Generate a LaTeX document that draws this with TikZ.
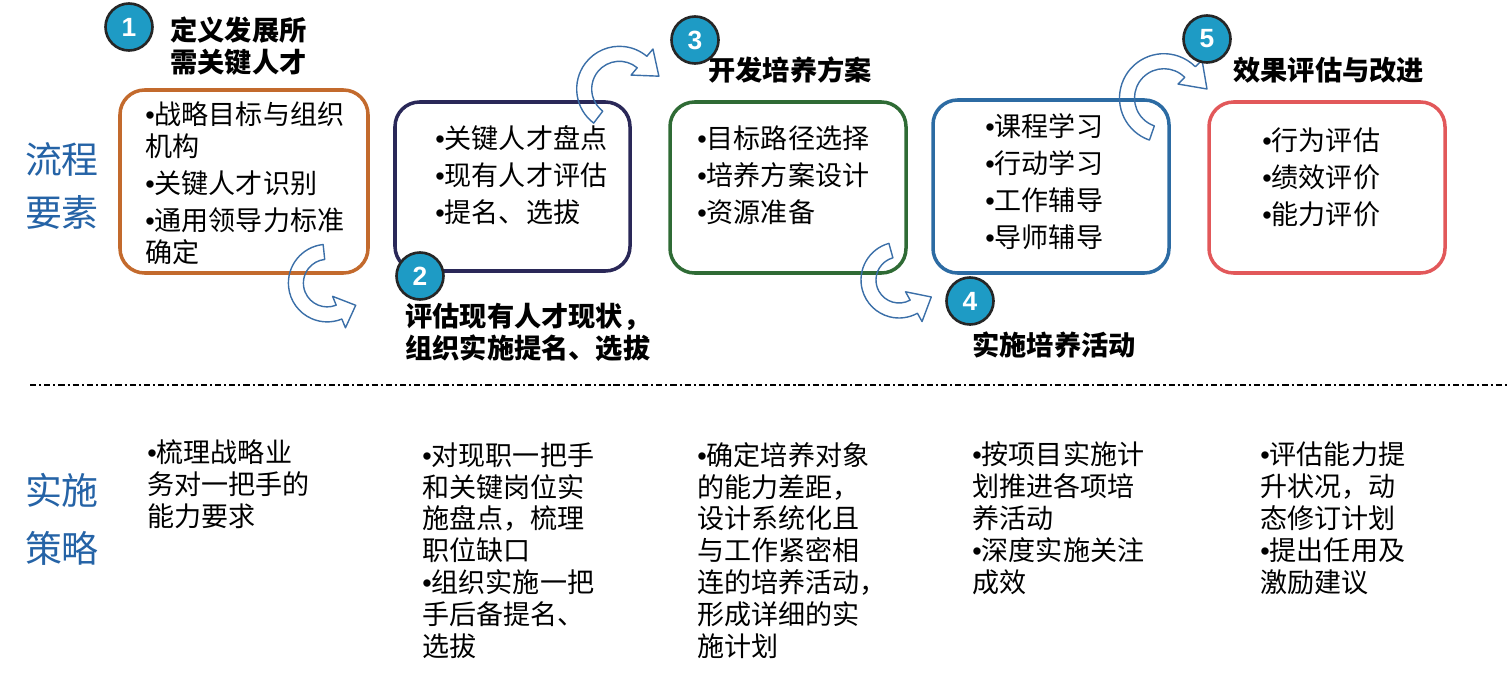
\documentclass[tikz,border=0pt]{standalone}
\usepackage{fontspec}
\setmainfont{Noto Sans CJK SC}
\newfontfamily\numfont{Liberation Sans}
\newcommand\bul{{\numfont •}}
\definecolor{corange}{HTML}{C36A2D}
\definecolor{cnavy}{HTML}{2A2858}
\definecolor{cgreen}{HTML}{2F6B35}
\definecolor{cblue}{HTML}{2C6BA3}
\definecolor{cred}{HTML}{E2585A}
\definecolor{carrow}{HTML}{3B6FA8}
\definecolor{cteal}{HTML}{1E9BC5}
\definecolor{clabel}{HTML}{2563A6}
\tikzset{
  boxst/.style={line width=2pt, rounded corners=14pt},
  numcirc/.style={circle, fill=cteal, draw=black!85, line width=1.5pt, minimum size=0.94cm, inner sep=0pt, text=white, font=\numfont\bfseries\fontsize{15}{15}\selectfont},
  bodytxt/.style={anchor=base west, align=left, inner sep=0pt, font=\fontsize{15.4}{18.1}\selectfont},
  headtxt/.style={anchor=base west, align=left, inner sep=0pt, font=\bfseries\fontsize{15.5}{18.1}\selectfont},
  sidelabel/.style={align=center, inner sep=0pt, text=clabel},
  arrowline/.style={draw=carrow, line width=0.8pt, line join=round},
  dashdotline/.style={line width=1.3pt, draw=black, dash pattern=on 3.5pt off 1.7pt on 1.2pt off 1.7pt}
}
\newcommand\bentarrow[7]{%
  \draw[arrowline] ([shift={({#4}:{#3+7.5})}]#1,#2) arc[start angle=#4, end angle=#5, radius={#3+7.5}]
   -- ([shift={({#5}:{#3+17})}]#1,#2)
   -- ([shift={({#5}:{#3})},shift={({#5+#6*90}:{#7})}]#1,#2)
   -- ([shift={({#5}:{#3-17})}]#1,#2)
   -- ([shift={({#5}:{#3-7.5})}]#1,#2)
   arc[start angle=#5, end angle=#4, radius={#3-7.5}] -- cycle;}
\begin{document}
\begin{tikzpicture}[x=0.02cm, y=-0.02cm]
\useasboundingbox (0,0) rectangle (1508,683);

% side labels
\node[sidelabel, font=\fontsize{21}{30}\selectfont] (lab1) at (62,186) {流程\\要素};
\node[sidelabel, font=\fontsize{21}{33}\selectfont] (lab2) at (62,519) {实施\\策略};

% boxes
\draw[boxst, draw=corange] (120,90) rectangle (368,273);
\draw[boxst, draw=cnavy] (395,102) rectangle (630,271);
\draw[boxst, draw=cgreen] (670,102) rectangle (906,273);
\draw[boxst, draw=cblue] (933,100) rectangle (1169,273);
\draw[boxst, draw=cred] (1209,102) rectangle (1445,273);

% box texts (anchor = baseline of last line)
\node[bodytxt] (t1) at (145,262) {\bul{}战略目标与组织\\机构\\[2.8pt]\bul{}关键人才识别\\[2.8pt]\bul{}通用领导力标准\\确定};
\node[bodytxt] (t2) at (435,222) {\bul{}关键人才盘点\\[2.9pt]\bul{}现有人才评估\\[2.9pt]\bul{}提名、选拔};
\node[bodytxt] (t3) at (697,222) {\bul{}目标路径选择\\[2.9pt]\bul{}培养方案设计\\[2.9pt]\bul{}资源准备};
\node[bodytxt] (t4) at (985,247) {\bul{}课程学习\\[2.9pt]\bul{}行动学习\\[2.9pt]\bul{}工作辅导\\[2.9pt]\bul{}导师辅导};
\node[bodytxt] (t5) at (1262,224) {\bul{}行为评估\\[2.9pt]\bul{}绩效评价\\[2.9pt]\bul{}能力评价};

% headings
\node[headtxt] (h1) at (170,72) {定义发展所\\需关键人才};
\node[headtxt] (h2) at (405,358) {评估现有人才现状，\\组织实施提名、选拔};
\node[headtxt] (h3) at (708,80) {开发培养方案};
\node[headtxt] (h4) at (972,355) {实施培养活动};
\node[headtxt] (h5) at (1233,80) {效果评估与改进};

% curved arrows
\bentarrow{327.2}{283.1}{31.3}{264}{67.8}{-1}{18}
\bentarrow{619.4}{89}{35.2}{127}{310}{1}{22}
\bentarrow{899}{280}{30.5}{254.6}{61}{-1}{20}
\bentarrow{1163.9}{98.1}{36.9}{109}{315}{1}{24}

% number circles
\node[numcirc] (n1) at (129,27) {1};
\node[numcirc] (n2) at (420,276) {2};
\node[numcirc] (n3) at (695,40) {3};
\node[numcirc] (n4) at (970,301) {4};
\node[numcirc] (n5) at (1207,39) {5};

% separator
\draw[dashdotline] (30,385) -- (1508,385);

% bottom texts (anchor = baseline of last line)
\node[bodytxt] (s1) at (147,526) {\bul{}梳理战略业\\务对一把手的\\能力要求};
\node[bodytxt] (s2) at (422,656) {\bul{}对现职一把手\\和关键岗位实\\施盘点，梳理\\职位缺口\\\bul{}组织实施一把\\手后备提名、\\选拔};
\node[bodytxt] (s3) at (697,656) {\bul{}确定培养对象\\的能力差距，\\设计系统化且\\与工作紧密相\\连的培养活动，\\形成详细的实\\施计划};
\node[bodytxt] (s4) at (972,592) {\bul{}按项目实施计\\划推进各项培\\养活动\\\bul{}深度实施关注\\成效};
\node[bodytxt] (s5) at (1260,592) {\bul{}评估能力提\\升状况，动\\态修订计划\\\bul{}提出任用及\\激励建议};
\end{tikzpicture}
\end{document}
